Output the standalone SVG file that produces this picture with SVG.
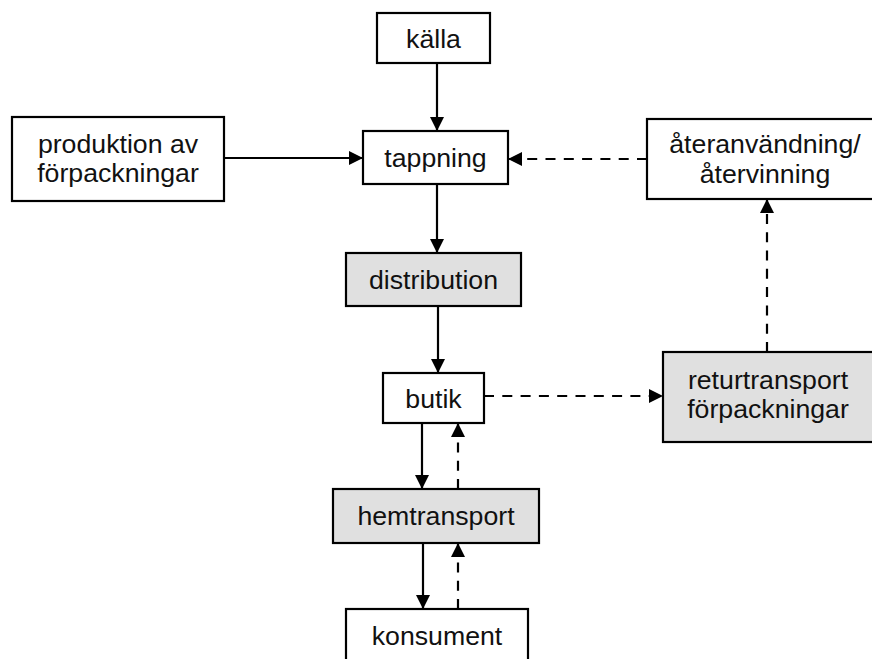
<svg xmlns="http://www.w3.org/2000/svg" width="872" height="659" viewBox="0 0 872 659">
<style>
  .box { fill: #ffffff; stroke: #000; stroke-width: 2.2; }
  .grey { fill: #e0e0e0; }
  .lbl { font-family: "Liberation Sans", Arial, sans-serif; font-size: 26.7px; fill: #111; text-anchor: middle; }
  .solid { stroke: #000; stroke-width: 2.2; fill: none; marker-end: url(#ah); }
  .dash { stroke: #000; stroke-width: 2.2; fill: none; stroke-dasharray: 10 8.3; marker-end: url(#ah); }
</style>
<defs>
  <marker id="ah" markerUnits="userSpaceOnUse" markerWidth="16" markerHeight="16" viewBox="0 0 16 16" refX="15" refY="8" orient="auto">
    <path d="M1,1 L15,8 L1,15 Z" fill="#000"/>
  </marker>
</defs>
<rect width="872" height="659" fill="#fff"/>
<g id="connectors">
  <line class="solid" x1="437" y1="63" x2="437" y2="131"/>
  <line class="solid" x1="224" y1="158" x2="363" y2="158"/>
  <line class="dash" x1="647" y1="159" x2="508" y2="159"/>
  <line class="solid" x1="437" y1="184" x2="437" y2="253"/>
  <line class="solid" x1="438" y1="306" x2="438" y2="373"/>
  <line class="dash" x1="484" y1="396" x2="663" y2="396"/>
  <line class="dash" x1="767" y1="352" x2="767" y2="199"/>
  <line class="solid" x1="422" y1="423" x2="422" y2="489"/>
  <line class="dash" x1="458" y1="489" x2="458" y2="423"/>
  <line class="solid" x1="423" y1="543" x2="423" y2="609"/>
  <line class="dash" x1="458" y1="609" x2="458" y2="543"/>
</g>
<g id="kalla">
  <rect class="box" x="377" y="13" width="113" height="50"/>
  <text class="lbl" x="433.5" y="47.5">källa</text>
</g>
<g id="produktion">
  <rect class="box" x="12" y="117" width="212" height="84"/>
  <text class="lbl" x="118" y="153">produktion av</text>
  <text class="lbl" x="118" y="182">förpackningar</text>
</g>
<g id="tappning">
  <rect class="box" x="363" y="131" width="145" height="53"/>
  <text class="lbl" x="435.5" y="167">tappning</text>
</g>
<g id="ateranvandning">
  <rect class="box" x="647" y="119" width="240" height="80"/>
  <text class="lbl" x="765" y="153">återanvändning/</text>
  <text class="lbl" x="765" y="183">återvinning</text>
</g>
<g id="distribution">
  <rect class="box grey" x="346" y="253" width="175" height="53"/>
  <text class="lbl" x="433.5" y="288.5">distribution</text>
</g>
<g id="butik">
  <rect class="box" x="383" y="373" width="101" height="50"/>
  <text class="lbl" x="433.5" y="408">butik</text>
</g>
<g id="returtransport">
  <rect class="box grey" x="663" y="352" width="220" height="90"/>
  <text class="lbl" x="768" y="389">returtransport</text>
  <text class="lbl" x="768" y="418">förpackningar</text>
</g>
<g id="hemtransport">
  <rect class="box grey" x="333" y="489" width="206" height="54"/>
  <text class="lbl" x="436" y="525">hemtransport</text>
</g>
<g id="konsument">
  <rect class="box" x="346" y="609" width="182" height="60"/>
  <text class="lbl" x="437" y="645">konsument</text>
</g>
</svg>
